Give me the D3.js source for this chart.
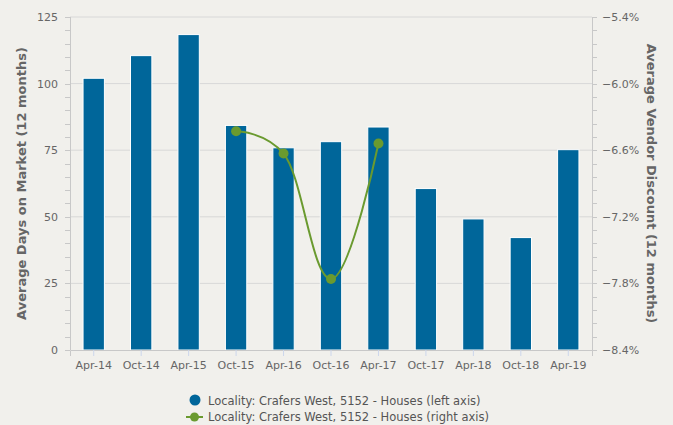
<!DOCTYPE html>
<html lang="en">
<head>
<meta charset="UTF-8">
<title>Crafers West 5152 - Houses</title>
<script src="https://d3js.org/d3.v7.min.js"></script>
<style>
    body { margin: 0; background: #f1f0ec; font-family: "DejaVu Sans", sans-serif; }
    .tick text { fill: #666; font-size: 11px; }
    .axis-title { fill: #666; font-size: 13px; font-weight: bold; }
    .legend text { fill: #555; font-size: 11.5px; }
</style>
</head>
<body>
<div id="chart"></div>
<script>
    // Data
    var periods = ["Apr-14", "Oct-14", "Apr-15", "Oct-15", "Apr-16", "Oct-16", "Apr-17", "Oct-17", "Apr-18", "Oct-18", "Apr-19"];
    var daysOnMarket = [102, 110.5, 118.4, 84.3, 75.9, 78.2, 83.7, 60.6, 49.2, 42.2, 75.2];
    var vendorDiscount = [null, null, null, -6.43, -6.63, -7.76, -6.54, null, null, null, null];
    var leftTicks = [0, 25, 50, 75, 100, 125];
    var rightTicks = [-8.4, -7.8, -7.2, -6.6, -6.0, -5.4];
    var legendLabels = ["Locality: Crafers West, 5152 - Houses (left axis)", "Locality: Crafers West, 5152 - Houses (right axis)"];

    var W = 673, H = 425;
    var margin = {top: 17, right: 81, bottom: 75, left: 70},
        w = W - margin.left - margin.right,
        h = H - margin.top - margin.bottom;

    var barColor = "#00669a", lineColor = "#6a9a2f", gridColor = "#d8d8d8";

    var svg = d3.select("#chart").append("svg")
        .attr("width", W)
        .attr("height", H);

    var g = svg.append("g")
        .attr("transform", "translate(" + margin.left + "," + margin.top + ")");

    var x = d3.scaleBand().domain(periods).range([0, w]).paddingInner(0.55).paddingOuter(0.275);
    var yL = d3.scaleLinear().domain([0, 125]).range([h, 0]);
    var yR = d3.scaleLinear().domain([-8.4, -5.4]).range([h, 0]);

    // Grid lines
    g.selectAll(".grid").data(leftTicks.slice(1)).enter().append("line")
        .attr("x1", 0).attr("x2", w)
        .attr("y1", function(d) { return yL(d); })
        .attr("y2", function(d) { return yL(d); })
        .attr("stroke", gridColor).attr("stroke-width", 1);

    // Minor ticks left
    g.selectAll(".minorL").data(d3.range(0, 126, 5)).enter().append("line")
        .attr("x1", -5).attr("x2", 0)
        .attr("y1", function(d) { return Math.round(yL(d)) + 0.5; })
        .attr("y2", function(d) { return Math.round(yL(d)) + 0.5; })
        .attr("stroke", "#c8c8c8");

    // Minor ticks right
    g.selectAll(".minorR").data(d3.range(0, 26)).enter().append("line")
        .attr("x1", w).attr("x2", w + 5)
        .attr("y1", function(d) { return Math.round(yR(-8.4 + d * 0.12)) + 0.5; })
        .attr("y2", function(d) { return Math.round(yR(-8.4 + d * 0.12)) + 0.5; })
        .attr("stroke", "#c8c8c8");

    // Axis lines
    g.append("line").attr("x1", 0.5).attr("x2", 0.5).attr("y1", 0).attr("y2", h).attr("stroke", "#c8c8c8");
    g.append("line").attr("x1", w + 0.5).attr("x2", w + 0.5).attr("y1", 0).attr("y2", h).attr("stroke", "#c8c8c8");

    // Bars
    g.selectAll(".bar").data(daysOnMarket).enter().append("rect")
        .attr("x", function(d, i) { return x(periods[i]); })
        .attr("y", function(d) { return yL(d); })
        .attr("width", x.bandwidth())
        .attr("height", function(d) { return h - yL(d); })
        .attr("fill", barColor)
        .attr("stroke", "#ffffff")
        .attr("stroke-width", 1);

    // X axis
    var xAxis = g.append("g")
        .attr("transform", "translate(0," + h + ")")
        .call(d3.axisBottom(x).tickSize(6).tickPadding(5));
    xAxis.select(".domain").attr("stroke", "#c8c8c8");
    xAxis.selectAll(".tick line").attr("stroke", "#ccd6eb");
    xAxis.selectAll(".tick text").attr("font-family", "DejaVu Sans");

    // Left axis labels
    var lAxis = g.append("g")
        .call(d3.axisLeft(yL).tickValues(leftTicks).tickSize(0).tickPadding(12));
    lAxis.select(".domain").remove();
    lAxis.selectAll(".tick text").attr("font-family", "DejaVu Sans");

    // Right axis labels
    var rAxis = g.append("g")
        .attr("transform", "translate(" + w + ",0)")
        .call(d3.axisRight(yR).tickValues(rightTicks).tickSize(0).tickPadding(10)
            .tickFormat(function(d) { return d3.format(".1f")(d) + "%"; }));
    rAxis.select(".domain").remove();
    rAxis.selectAll(".tick text").attr("font-family", "DejaVu Sans");

    // Line series: spline in the style of the original charting tool
    var pts = [];
    vendorDiscount.forEach(function(v, i) {
        if (v !== null) pts.push({x: x(periods[i]) + x.bandwidth() / 2, y: yR(v)});
    });

    function splinePath(p) {
        var s = 1.5, den = s + 1, path = d3.path();
        var conts = p.map(function(pt, i) {
            if (i === 0 || i === p.length - 1) return null;
            var a = p[i - 1], b = p[i + 1];
            var lx = (s * pt.x + a.x) / den, ly = (s * pt.y + a.y) / den;
            var rx = (s * pt.x + b.x) / den, ry = (s * pt.y + b.y) / den;
            if (rx !== lx) {
                var corr = ((ry - ly) * (rx - pt.x)) / (rx - lx) + pt.y - ry;
                ly += corr; ry += corr;
            }
            if (ly > a.y && ly > pt.y) { ly = Math.max(a.y, pt.y); ry = 2 * pt.y - ly; }
            else if (ly < a.y && ly < pt.y) { ly = Math.min(a.y, pt.y); ry = 2 * pt.y - ly; }
            if (ry > b.y && ry > pt.y) { ry = Math.max(b.y, pt.y); ly = 2 * pt.y - ry; }
            else if (ry < b.y && ry < pt.y) { ry = Math.min(b.y, pt.y); ly = 2 * pt.y - ry; }
            return {lx: lx, ly: ly, rx: rx, ry: ry};
        });
        path.moveTo(p[0].x, p[0].y);
        for (var i = 1; i < p.length; i++) {
            var c0 = conts[i - 1], c1 = conts[i];
            path.bezierCurveTo(
                c0 ? c0.rx : p[i - 1].x, c0 ? c0.ry : p[i - 1].y,
                c1 ? c1.lx : p[i].x, c1 ? c1.ly : p[i].y,
                p[i].x, p[i].y);
        }
        return path.toString();
    }

    g.append("path")
        .attr("fill", "none")
        .attr("stroke", lineColor)
        .attr("stroke-width", 2)
        .attr("d", splinePath(pts));

    g.selectAll(".pt").data(pts).enter().append("circle")
        .attr("cx", function(d) { return d.x; })
        .attr("cy", function(d) { return d.y; })
        .attr("r", 5)
        .attr("fill", lineColor);

    // Axis titles
    svg.append("text")
        .attr("class", "axis-title")
        .attr("transform", "translate(26," + (margin.top + h / 2) + ") rotate(-90)")
        .attr("text-anchor", "middle")
        .text("Average Days on Market (12 months)");

    svg.append("text")
        .attr("class", "axis-title")
        .attr("transform", "translate(647," + (margin.top + h / 2) + ") rotate(90)")
        .attr("text-anchor", "middle")
        .text("Average Vendor Discount (12 months)");

    // Legend
    var legend = svg.append("g").attr("class", "legend");
    legend.append("circle").attr("cx", 195).attr("cy", 400).attr("r", 5.5).attr("fill", barColor);
    legend.append("text").attr("x", 208).attr("y", 404.5).text(legendLabels[0]);
    legend.append("line").attr("x1", 186).attr("x2", 203).attr("y1", 417).attr("y2", 417)
        .attr("stroke", lineColor).attr("stroke-width", 2);
    legend.append("circle").attr("cx", 194.5).attr("cy", 417).attr("r", 4.5).attr("fill", lineColor);
    legend.append("text").attr("x", 208).attr("y", 421).text(legendLabels[1]);
</script>
</body>
</html>
